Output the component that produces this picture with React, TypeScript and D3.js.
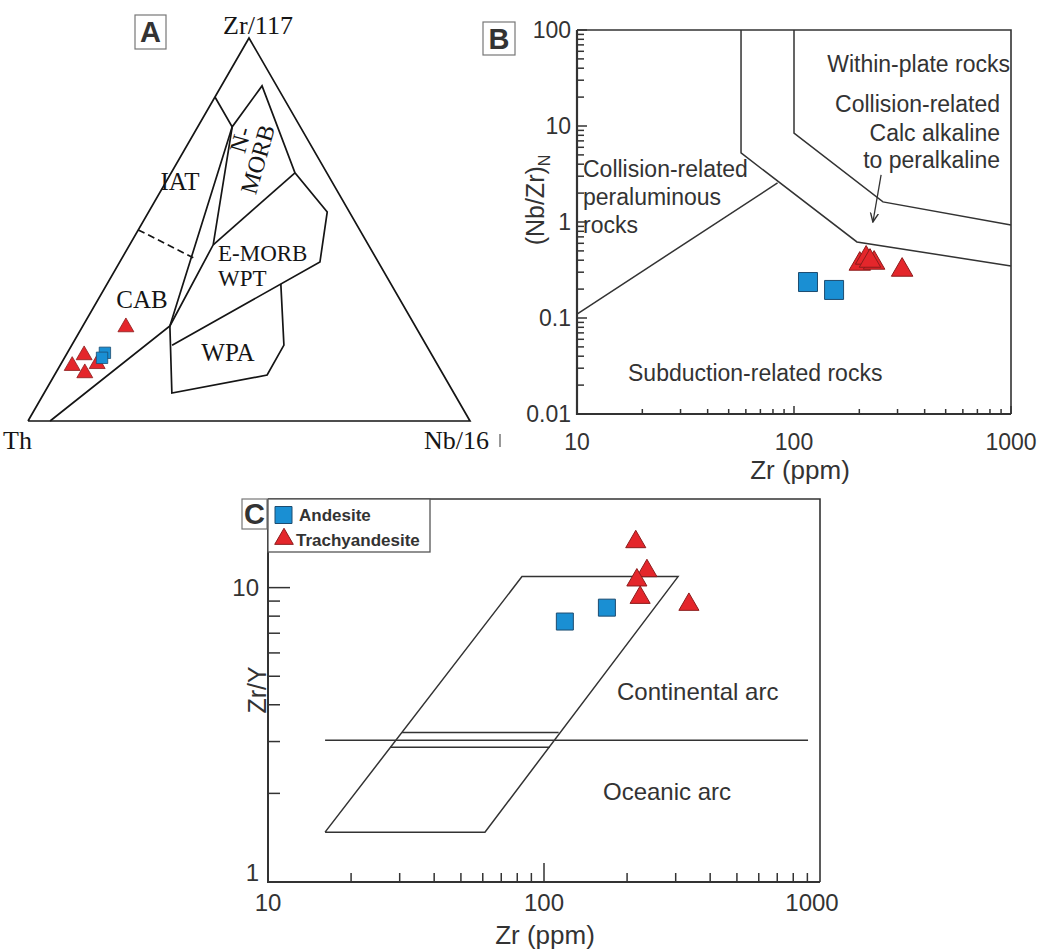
import React from 'react';
import * as d3 from 'd3';

// ---------- Panel A: ternary Th – Zr/117 – Nb/16, points as [Th, Zr, Nb] (%) ----------
const aTriangle = [[100, 0, 0], [0, 100, 0], [0, 0, 100], [100, 0, 0]];
const aUpperLine = [[15.4, 84.6, 0], [15.4, 76.8, 7.8], [3.3, 87.5, 9.2], [7.2, 64.8, 28.0], [5.0, 54.6, 40.4], [13.2, 41.5, 45.3], [57.5, 19.8, 22.7]];
const aMorbDivide = [[7.2, 64.8, 28.0], [35.1, 46.0, 18.9]];
const aMorbLeft = [[15.4, 76.8, 7.8], [35.1, 46.0, 18.9], [55.5, 24.8, 19.7]];
const aCabLine = [[95, 0, 5], [55.5, 24.8, 19.7], [15.4, 76.8, 7.8]];
const aWpaLine = [[55.5, 24.8, 19.7], [63.8, 7.3, 28.9], [39.9, 12.0, 48.1], [32.2, 19.8, 48.0], [24.9, 35.8, 39.3]];
const aIatCabDash = [[50.1, 49.9, 0], [41.3, 42.6, 16.1]];
const aAndesite = [[73.7, 17.8, 8.5], [75.0, 16.5, 8.5]];
const aTrachy = [[65.6, 24.5, 9.9], [78.7, 17.2, 4.1], [82.8, 14.4, 2.8], [80.9, 12.5, 6.6], [76.9, 14.9, 8.2]];

// ---------- Panel B: (Nb/Zr)N vs Zr ----------
const bXTicks = [10, 100, 1000];
const bYTicks = [0.01, 0.1, 1, 10, 100];
const bLowerBoundary = [[57, 100], [57, 5.24], [195, 0.62], [1000, 0.348]];
const bUpperBoundary = [[100, 100], [100, 8.45], [257, 1.62], [1000, 0.93]];
const bPeraluminous = [[10, 0.11], [84, 2.55]];
const bArrow = [[252, 3.09], [231, 1.0]];
const bAndesite = [[116, 0.237], [153, 0.196]];
const bTrachy = [[201, 0.365], [215, 0.422], [234, 0.374], [224, 0.392], [315, 0.316]];

// ---------- Panel C: Zr/Y vs Zr ----------
const cXTicks = [10, 100, 1000];
const cYTicks = [1, 10];
const cParallelogram = [[16.1, 1.477], [61.1, 1.477], [306, 10.9], [83.2, 10.9], [16.1, 1.477]];
const cArcBoundary = [[16.1, 3.03], [905, 3.03]];
const cInnerUpper = [[30.6, 3.22], [113, 3.22]];
const cInnerLower = [[27.7, 2.87], [105, 2.87]];
const cAndesite = [[119, 7.67], [169, 8.55]];
const cTrachy = [[215, 14.3], [236, 11.4], [217, 10.6], [223, 9.25], [335, 8.76]];

const RED = '#e4262b';
const RED_EDGE = '#8c1c1c';
const BLUE = '#1a8fd3';
const BLUE_EDGE = '#1d4c70';
const INK = '#333';
const SANS = '"Liberation Sans", Arial, sans-serif';
const SERIF = '"Liberation Serif", "Times New Roman", serif';

const logTicks = (lo: number, hi: number) => {
  const out: { v: number; major: boolean }[] = [];
  for (let e = lo; e < hi; e++) for (let k = 1; k < 10; k++) out.push({ v: k * Math.pow(10, e), major: k === 1 });
  out.push({ v: Math.pow(10, hi), major: true });
  return out;
};

const tri = (area: number) => d3.symbol().type(d3.symbolTriangle).size(area)() as string;
const sq = (area: number) => d3.symbol().type(d3.symbolSquare).size(area)() as string;

const BoxLabel = ({ x, y, w, h, t }: { x: number; y: number; w: number; h: number; t: string }) => (
  <g>
    <rect x={x} y={y} width={w} height={h} fill="#fff" stroke="#777" strokeWidth={1.2} />
    <text x={x + w / 2} y={y + h / 2 + 10} textAnchor="middle" fontFamily={SANS} fontWeight={700} fontSize={29} fill={INK}>{t}</text>
  </g>
);

const PanelA = () => {
  const tx = d3.scaleLinear().domain([0, 1]).range([28, 470]);
  const ty = d3.scaleLinear().domain([0, 1]).range([421, 38]);
  const proj = (p: number[]): [number, number] => {
    const s = p[0] + p[1] + p[2];
    const z = p[1] / s, n = p[2] / s;
    return [tx(n + z / 2), ty(z)];
  };
  const line = d3.line<number[]>().x(d => proj(d)[0]).y(d => proj(d)[1]);
  const st = { fill: 'none', stroke: '#151515', strokeWidth: 1.7, strokeLinejoin: 'miter' as const };
  const lbl = { fontFamily: SERIF, fontSize: 25, fill: '#151515' };
  return (
    <g>
      <path d={line(aTriangle) as string} {...st} />
      <path d={line(aUpperLine) as string} {...st} />
      <path d={line(aMorbDivide) as string} {...st} />
      <path d={line(aMorbLeft) as string} {...st} />
      <path d={line(aCabLine) as string} {...st} />
      <path d={line(aWpaLine) as string} {...st} />
      <path d={line(aIatCabDash) as string} {...st} strokeDasharray="7,4" />
      {aTrachy.map((d, i) => {
        const [x, y] = proj(d);
        return <path key={'at' + i} d={tri(110)} transform={`translate(${x},${y})`} fill={RED} stroke={RED_EDGE} strokeWidth={0.8} />;
      })}
      {aAndesite.map((d, i) => {
        const [x, y] = proj(d);
        return <path key={'as' + i} d={sq(130)} transform={`translate(${x},${y})`} fill={BLUE} stroke={BLUE_EDGE} strokeWidth={0.8} />;
      })}
      <text x={258} y={34} textAnchor="middle" {...lbl} fontSize={26}>Zr/117</text>
      <text x={3} y={449} {...lbl} fontSize={26}>Th</text>
      <text x={424} y={449} {...lbl} fontSize={26}>Nb/16</text>
      <line x1={500} x2={500} y1={434} y2={447} stroke="#555" strokeWidth={1.2} />
      <text x={180} y={190} textAnchor="middle" {...lbl}>IAT</text>
      <text x={142} y={308} textAnchor="middle" {...lbl}>CAB</text>
      <text x={218} y={261} {...lbl} fontSize={23}>E-MORB</text>
      <text x={218} y={286} {...lbl} fontSize={23}>WPT</text>
      <text x={228} y={361} textAnchor="middle" {...lbl}>WPA</text>
      <g transform="translate(253,158) rotate(-74)">
        <text x={14} y={-9} textAnchor="middle" {...lbl} fontSize={24}>N-</text>
        <text x={0} y={13} textAnchor="middle" {...lbl} fontSize={24}>MORB</text>
      </g>
      <BoxLabel x={135} y={15} w={31} h={34} t="A" />
    </g>
  );
};

const PanelB = () => {
  const x = d3.scaleLog().domain([10, 1000]).range([577, 1011]);
  const y = d3.scaleLog().domain([0.01, 100]).range([414, 30]);
  const line = d3.line<number[]>().x(d => x(d[0])).y(d => y(d[1]));
  const st = { fill: 'none', stroke: INK, strokeWidth: 1.5 };
  const txt = { fontFamily: SANS, fontSize: 23, fill: INK };
  return (
    <g>
      <defs>
        <marker id="arrB" viewBox="0 0 10 10" refX={9} refY={5} markerWidth={10} markerHeight={10} orient="auto" markerUnits="userSpaceOnUse">
          <path d="M0,1 L9,5 L0,9" fill="none" stroke={INK} strokeWidth={1.4} />
        </marker>
      </defs>
      <path d={line(bLowerBoundary) as string} {...st} />
      <path d={line(bUpperBoundary) as string} {...st} />
      <path d={line(bPeraluminous) as string} {...st} />
      <path d={line(bArrow) as string} {...st} strokeWidth={1.3} markerEnd="url(#arrB)" />
      {/* frame */}
      <path d={`M${x(10)},${y(100)}H${x(1000)}V${y(0.01)}`} fill="none" stroke={INK} strokeWidth={1.6} />
      <path d={`M${x(10)},${y(100)}V${y(0.01)}H${x(1000)}`} fill="none" stroke={INK} strokeWidth={2.2} />
      {logTicks(-2, 2).map((t, i) => (
        <line key={'by' + i} x1={x(10)} x2={x(10) + (t.major ? 10 : 7)} y1={y(t.v)} y2={y(t.v)} stroke={INK} strokeWidth={1.5} />
      ))}
      {logTicks(1, 3).map((t, i) => (
        <line key={'bx' + i} x1={x(t.v)} x2={x(t.v)} y1={y(0.01)} y2={y(0.01) - (t.major ? 8 : 5)} stroke={INK} strokeWidth={1.5} />
      ))}
      {bYTicks.map(v => (
        <text key={'byl' + v} x={571} y={y(v) + 8} textAnchor="end" {...txt}>{v}</text>
      ))}
      {bXTicks.map(v => (
        <text key={'bxl' + v} x={x(v)} y={450} textAnchor="middle" {...txt}>{v}</text>
      ))}
      <text x={800} y={479} textAnchor="middle" {...txt} fontSize={26}>Zr (ppm)</text>
      <text transform="translate(544,200) rotate(-90)" textAnchor="middle" {...txt} fontSize={25}>
        (Nb/Zr)<tspan fontSize={16} dy={6}>N</tspan>
      </text>
      <text x={1010} y={72} textAnchor="end" {...txt}>Within-plate rocks</text>
      <text x={1000} y={112} textAnchor="end" {...txt}>Collision-related</text>
      <text x={1000} y={141} textAnchor="end" {...txt}>Calc alkaline</text>
      <text x={1000} y={168} textAnchor="end" {...txt}>to peralkaline</text>
      <text x={583} y={177} {...txt}>Collision-related</text>
      <text x={583} y={205} {...txt}>peraluminous</text>
      <text x={583} y={233} {...txt}>rocks</text>
      <text x={628} y={381} {...txt}>Subduction-related rocks</text>
      {bAndesite.map((d, i) => (
        <path key={'bs' + i} d={sq(361)} transform={`translate(${x(d[0])},${y(d[1])})`} fill={BLUE} stroke={BLUE_EDGE} strokeWidth={1} />
      ))}
      {bTrachy.map((d, i) => (
        <path key={'bt' + i} d={tri(200)} transform={`translate(${x(d[0])},${y(d[1])})`} fill={RED} stroke={RED_EDGE} strokeWidth={1} />
      ))}
      <BoxLabel x={483} y={22} w={32} h={33} t="B" />
    </g>
  );
};

const PanelC = () => {
  const x = d3.scaleLog().domain([10, 1000]).range([268, 820]);
  const y = d3.scaleLog().domain([1, 20]).range([882, 499]);
  const line = d3.line<number[]>().x(d => x(d[0])).y(d => y(d[1]));
  const st = { fill: 'none', stroke: INK, strokeWidth: 1.5 };
  const txt = { fontFamily: SANS, fontSize: 24, fill: INK };
  return (
    <g>
      <path d={line(cParallelogram) as string} {...st} />
      <path d={line(cArcBoundary) as string} {...st} />
      <path d={line(cInnerUpper) as string} {...st} />
      <path d={line(cInnerLower) as string} {...st} />
      <path d={`M${x(10)},${y(20)}H${x(1000)}V${y(1)}`} fill="none" stroke={INK} strokeWidth={1.6} />
      <path d={`M${x(10)},${y(20)}V${y(1)}H${x(1000)}`} fill="none" stroke={INK} strokeWidth={2} />
      {logTicks(0, 1).filter(t => t.v > 1).map((t, i) => (
        <line key={'cy' + i} x1={x(10)} x2={x(10) + (t.major ? 22 : 12)} y1={y(t.v)} y2={y(t.v)} stroke={INK} strokeWidth={1.5} />
      ))}
      {logTicks(1, 3).filter(t => t.v > 10 && t.v < 1000).map((t, i) => (
        <line key={'cx' + i} x1={x(t.v)} x2={x(t.v)} y1={y(1)} y2={y(1) - (t.major ? 19 : 9)} stroke={INK} strokeWidth={1.5} />
      ))}
      {cYTicks.map(v => (
        <text key={'cyl' + v} x={259} y={y(v) + 8 - (v === 1 ? 9 : 0)} textAnchor="end" {...txt}>{v}</text>
      ))}
      {cXTicks.map(v => (
        <text key={'cxl' + v} x={x(v) - (v === 1000 ? 8 : 0)} y={911} textAnchor="middle" {...txt}>{v}</text>
      ))}
      <text x={545} y={944} textAnchor="middle" {...txt} fontSize={26}>Zr (ppm)</text>
      <text transform="translate(266,690) rotate(-90)" textAnchor="middle" {...txt} fontSize={25}>Zr/Y</text>
      <text x={617} y={700} {...txt}>Continental arc</text>
      <text x={603} y={800} {...txt}>Oceanic arc</text>
      {cAndesite.map((d, i) => (
        <path key={'cs' + i} d={sq(289)} transform={`translate(${x(d[0])},${y(d[1])})`} fill={BLUE} stroke={BLUE_EDGE} strokeWidth={1} />
      ))}
      {cTrachy.map((d, i) => (
        <path key={'ct' + i} d={tri(175)} transform={`translate(${x(d[0])},${y(d[1])})`} fill={RED} stroke={RED_EDGE} strokeWidth={1} />
      ))}
      {/* legend */}
      <rect x={268} y={499} width={162} height={53} fill="#fff" stroke="#555" strokeWidth={1.3} />
      <path d={sq(289)} transform="translate(283.5,515)" fill={BLUE} stroke={BLUE_EDGE} strokeWidth={1} />
      <text x={299} y={521} fontFamily={SANS} fontWeight={700} fontSize={17} fill={INK}>Andesite</text>
      <path d={tri(150)} transform="translate(284,539)" fill={RED} stroke={RED_EDGE} strokeWidth={1} />
      <text x={296} y={546} fontFamily={SANS} fontWeight={700} fontSize={17} fill={INK}>Trachyandesite</text>
      <BoxLabel x={242} y={499} w={25} h={30} t="C" />
    </g>
  );
};

export default function App() {
  return (
    <svg width={1040} height={950} style={{ position: 'absolute', left: 0, top: 0, background: '#fff' }}>
      <rect width={1040} height={950} fill="#fff" />
      <PanelA />
      <PanelB />
      <PanelC />
    </svg>
  );
}
